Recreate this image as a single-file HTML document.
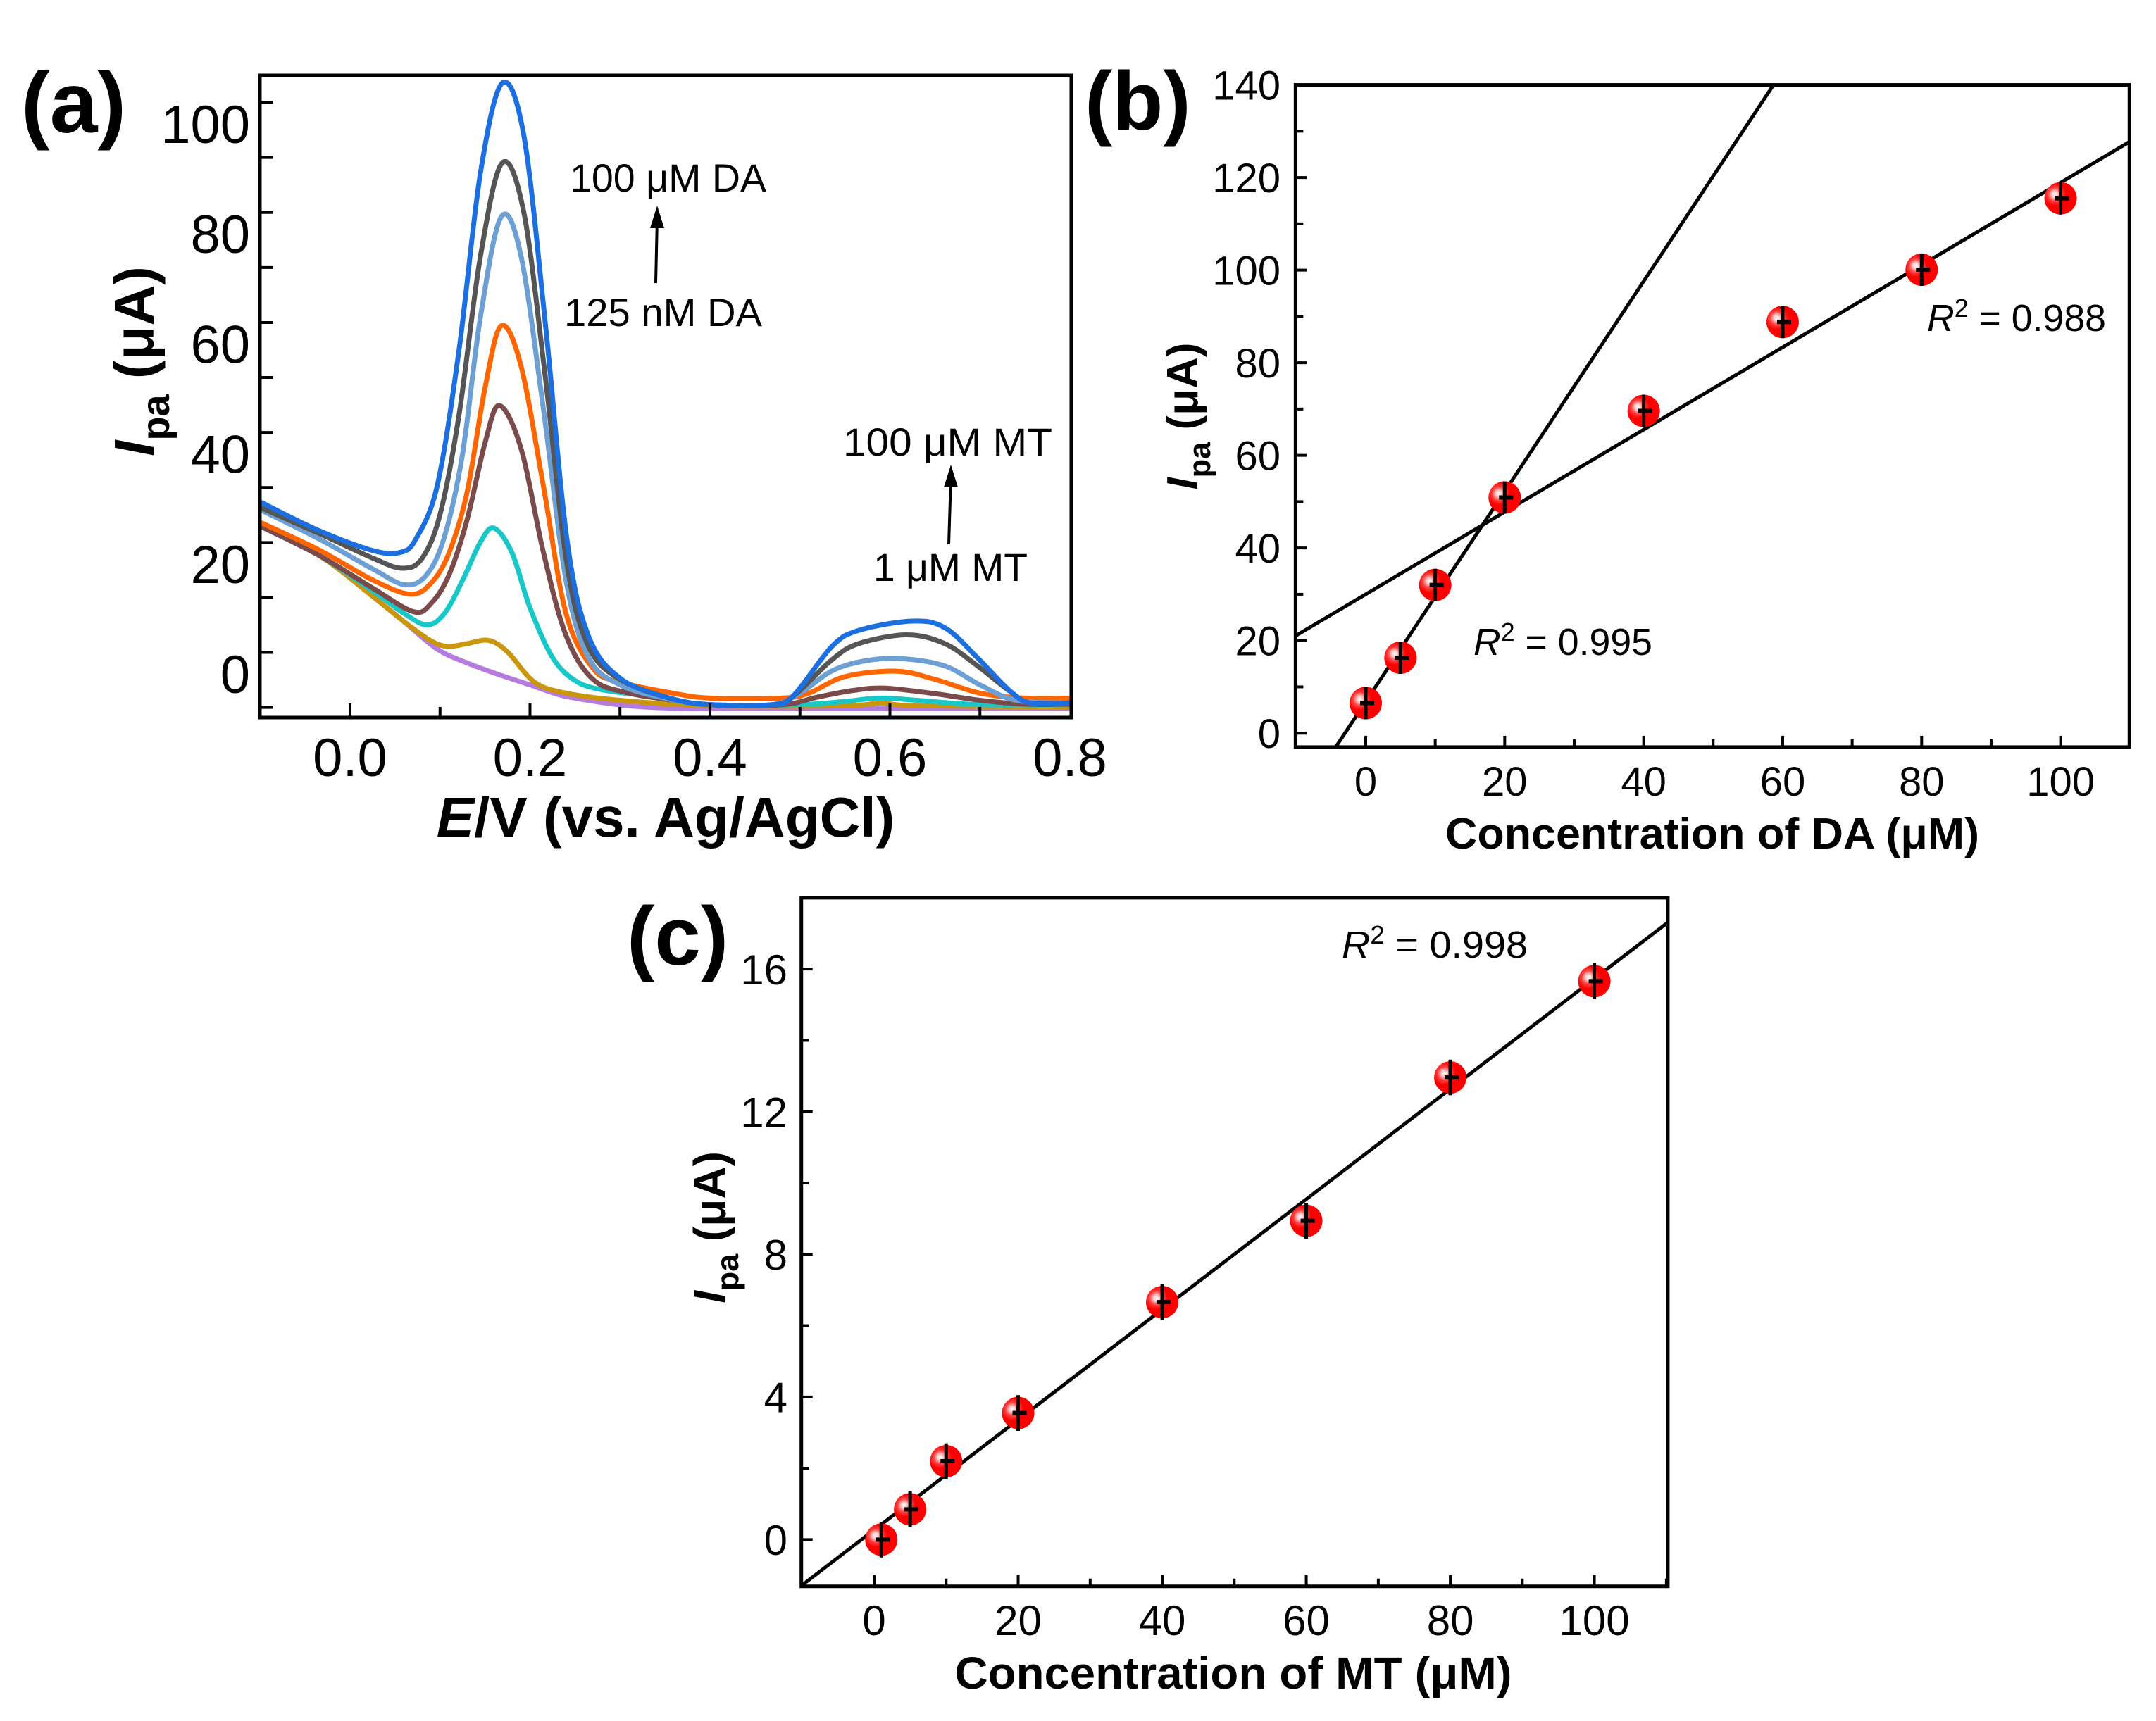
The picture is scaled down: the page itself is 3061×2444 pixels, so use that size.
<!DOCTYPE html>
<html><head><meta charset="utf-8"><style>
html,body{margin:0;padding:0;background:#fff;}
svg{display:block;font-family:"Liberation Sans",Arial,sans-serif;}
</style></head><body>
<svg id="fig" width="3061" height="2444" viewBox="0 0 3061 2444" xmlns="http://www.w3.org/2000/svg">
<defs>
<radialGradient id="ball" cx="0.32" cy="0.38" r="0.7">
<stop offset="0" stop-color="#ffffff"/><stop offset="0.12" stop-color="#ffd0d0"/><stop offset="0.3" stop-color="#ff4040"/><stop offset="0.5" stop-color="#ff0000"/><stop offset="1" stop-color="#ff0000"/>
</radialGradient>
</defs>
<g id="pa"></g>
<g id="pb"></g>
<g id="pc"></g>
</svg>
<script>
// ---------- Panel (a) data ----------
const aSeriesNames = ["purple","gold","cyan","brown","orange","lightblue","darkgray","blue"];
const aColors = ["#b57be0","#c9960c","#18c8c8","#7b4b4b","#ff6600","#6c9fd4","#555555","#1c6fe0"];
const aPurple = [[-0.099,26.8],[-0.034,21.5],[0.026,14],[0.06,9.5],[0.097,4.5],[0.13,2],[0.163,0],[0.20,-2],[0.235,-3.9],[0.28,-5.2],[0.325,-6],[0.40,-6.3],[0.60,-6.3],[0.80,-6.3]];
const aGold = [[-0.099,26.8],[-0.034,21.5],[0.026,14],[0.06,9.5],[0.09,6],[0.109,5],[0.13,5.5],[0.154,6.1],[0.175,4],[0.205,-1.5],[0.24,-3.5],[0.30,-4.8],[0.40,-5.8],[0.55,-5.8],[0.59,-5.3],[0.63,-5.8],[0.80,-6]];
const aCyan = [[-0.099,26.8],[-0.034,21.5],[0.026,15],[0.06,11],[0.0854,8.9],[0.105,11],[0.125,17],[0.145,24],[0.16,26.5],[0.18,22],[0.20,12],[0.225,3],[0.25,-1.2],[0.28,-2.9],[0.33,-4],[0.40,-5.6],[0.50,-5.6],[0.55,-5],[0.589,-4.4],[0.63,-4.8],[0.70,-5.6],[0.80,-5.6]];
const aBrown = [[-0.099,26.8],[-0.034,21.5],[0.026,15.5],[0.0705,11.3],[0.09,12.8],[0.11,18],[0.13,28],[0.15,42],[0.166,48.8],[0.19,41],[0.215,22],[0.24,7],[0.27,-1],[0.31,-3.5],[0.36,-4.8],[0.40,-5.6],[0.48,-5.6],[0.52,-4.2],[0.56,-3],[0.595,-2.6],[0.65,-3.6],[0.70,-4.8],[0.75,-5.5],[0.80,-5.5]];
const aOrange = [[-0.099,27.5],[-0.034,22.5],[0.026,17],[0.067,14.5],[0.09,16.5],[0.11,22],[0.13,33],[0.15,52],[0.168,63.3],[0.19,56],[0.215,34],[0.24,11],[0.27,1],[0.30,-1.5],[0.355,-3.4],[0.40,-4.4],[0.48,-4.4],[0.51,-3.5],[0.55,-0.5],[0.607,0.5],[0.65,-1],[0.70,-3.5],[0.75,-4.4],[0.80,-4.4]];
const aLightBlue = [[-0.099,29.8],[-0.034,24.5],[0.026,19],[0.061,16.2],[0.085,18],[0.105,25],[0.125,40],[0.145,65],[0.168,83.1],[0.19,76],[0.215,48],[0.24,17],[0.265,3],[0.30,-2],[0.355,-4.6],[0.40,-5.6],[0.469,-5.6],[0.50,-3.5],[0.535,0.5],[0.57,2.3],[0.61,2.8],[0.66,1.5],[0.70,-2],[0.74,-4.8],[0.80,-5.3]];
const aDarkGray = [[-0.099,30.2],[-0.034,25.5],[0.026,21],[0.058,19.2],[0.08,21],[0.10,29],[0.121,47],[0.145,76],[0.169,92.9],[0.193,84],[0.217,54],[0.241,20],[0.265,5],[0.30,-1],[0.355,-4.4],[0.40,-5.6],[0.469,-5.6],[0.493,-4],[0.535,2.5],[0.565,5.5],[0.619,7.1],[0.661,5.5],[0.697,1.5],[0.732,-3],[0.756,-5.3],[0.80,-5.3]];
const aBlue = [[-0.099,31.2],[-0.034,26.0],[0.026,22.4],[0.056,22.1],[0.073,24.5],[0.097,34.3],[0.121,58.8],[0.145,91.2],[0.169,107.4],[0.193,98.0],[0.217,63.8],[0.241,24.5],[0.265,6.9],[0.301,-0.9],[0.355,-4.4],[0.40,-5.6],[0.469,-5.6],[0.493,-3.9],[0.535,4.9],[0.565,7.9],[0.625,9.6],[0.661,8.4],[0.697,3.0],[0.732,-2.9],[0.756,-5.3],[0.80,-5.3]];
const aXTicks = [0.0,0.2,0.4,0.6,0.8];
const aXTickLabels = ["0.0","0.2","0.4","0.6","0.8"];
const aYTickLabels = ["0","20","40","60","80","100"];
const aYTickVals = [0,20,40,60,80,100];

// ---------- Panel (b) data ----------
const bConc = [0,5,10,20,40,60,80,100];
const bCurrent = [6.5,16.3,32,50.9,69.6,88.8,100.1,115.5];
const bErr = [3.5,3.5,3.5,3.5,3.5,3.5,3.5,3.5];
const bFit1 = [2.27,6.8];   // slope, intercept (low range)
const bFit2 = [0.889,30.0]; // slope, intercept (high range)
const bXTicks = [0,20,40,60,80,100];
const bYTicks = [0,20,40,60,80,100,120,140];

// ---------- Panel (c) data ----------
const cConc = [1,5,10,20,40,60,80,100];
const cCurrent = [0.0,0.85,2.2,3.55,6.66,8.94,12.96,15.66];
const cErr = [0.5,0.5,0.5,0.5,0.5,0.5,0.5,0.5];
const cFit = [0.1546,0.27];
const cXTicks = [0,20,40,60,80,100];
const cYTicks = [0,4,8,12,16];

const NS="http://www.w3.org/2000/svg";
function mk(parent,tag,attrs,text){const e=document.createElementNS(NS,tag);for(const k in attrs)e.setAttribute(k,attrs[k]);if(text!==undefined)e.textContent=text;parent.appendChild(e);return e;}
function smooth(pts){let d="M"+pts[0][0].toFixed(1)+","+pts[0][1].toFixed(1);for(let i=0;i<pts.length-1;i++){const p0=pts[i-1]||pts[i],p1=pts[i],p2=pts[i+1],p3=pts[i+2]||p2;const c1=[p1[0]+(p2[0]-p0[0])/6,p1[1]+(p2[1]-p0[1])/6],c2=[p2[0]-(p3[0]-p1[0])/6,p2[1]-(p3[1]-p1[1])/6];d+=" C"+c1[0].toFixed(1)+","+c1[1].toFixed(1)+" "+c2[0].toFixed(1)+","+c2[1].toFixed(1)+" "+p2[0].toFixed(1)+","+p2[1].toFixed(1);}return d;}

// ===== Panel A =====
(function(){
const g=document.getElementById('pa');
const L=369,R=1521,T=107,B=1019;
const X=v=>497+(v)*1277.5;
const Y=v=>957-v*7.81;
const clip=mk(g,'clipPath',{id:'clipA'});mk(clip,'rect',{x:L,y:T,width:R-L,height:B-T});
const curves=[aPurple,aGold,aCyan,aBrown,aOrange,aLightBlue,aDarkGray,aBlue];
const cg=mk(g,'g',{'clip-path':'url(#clipA)'});
curves.forEach((c,i)=>{
 const p=mk(cg,'path',{d:smooth(c.map(q=>[X(q[0]),Y(q[1])])),fill:'none',stroke:aColors[i],'stroke-width':7,'stroke-linejoin':'round'});
 
 
});
const fr=mk(g,'rect',{x:L,y:T,width:R-L,height:B-T,fill:'none',stroke:'#000','stroke-width':5});

for(let v=-0.1;v<=0.8001;v+=0.1){const major=Math.abs(Math.round(v*10)%2)===0;const x=X(v);if(x<=L+3||x>=R-3)continue;mk(g,'line',{x1:x,x2:x,y1:B,y2:B-(major?20:15),stroke:'#000','stroke-width':4});}
aXTicks.forEach((v,i)=>{const t=mk(g,'text',{x:X(v),y:1102,'font-size':76,'text-anchor':'middle'},aXTickLabels[i]);});
for(let k=0;k<12;k++){const v=-6.1+10*k;mk(g,'line',{x1:L,x2:L+19,y1:Y(v),y2:Y(v),stroke:'#000','stroke-width':4});}
aYTickVals.forEach((v,i)=>{const t=mk(g,'text',{x:355,y:Y(v)+27,'font-size':76,'text-anchor':'end'},aYTickLabels[i]);});
const xt=mk(g,'text',{x:945,y:1188,'font-size':80,'font-weight':'bold','text-anchor':'middle'});xt.innerHTML='<tspan font-style="italic">E</tspan>/V (vs. Ag/AgCl)';

const yt=mk(g,'text',{transform:'translate(218,513) rotate(-90)','font-size':80,'font-weight':'bold','text-anchor':'middle'});yt.innerHTML='<tspan font-style="italic">I</tspan><tspan font-size="56" dy="22">pa</tspan><tspan dy="-22"> (μA)</tspan>';

const lab=mk(g,'text',{x:30,y:188,'font-size':122,'font-weight':'bold'},'(a)');
const an=[["100 μM DA",809,272,279],["125 nM DA",801,463,281],["100 μM MT",1197,647,297],["1 μM MT",1240,825,219]];
an.forEach(a=>{const t=mk(g,'text',{x:a[1],y:a[2],'font-size':56,textLength:a[3],lengthAdjust:'spacingAndGlyphs'},a[0]);});
[[931,402,933,300],[1347,773,1350,668]].forEach(r=>{mk(g,'line',{x1:r[0],y1:r[1],x2:r[2],y2:r[3]+10,stroke:'#000','stroke-width':4});const h=mk(g,'polygon',{points:`${r[2]},${r[3]-8} ${r[2]-10},${r[3]+24} ${r[2]+10},${r[3]+24}`,fill:'#000'});});
})();

function scatterPanel(id,o){
const g=document.getElementById(id);
const X=v=>o.x0+v*o.sx, Y=v=>o.y0-v*o.sy;
const L=X(o.xmin),R=X(o.xmax),T=Y(o.ymax),B=Y(o.ymin);
const clip=mk(g,'clipPath',{id:'clip'+id});mk(clip,'rect',{x:L,y:T,width:R-L,height:B-T});
const lg=mk(g,'g',{'clip-path':'url(#clip'+id+')'});
o.fits.forEach((f,i)=>{const l=mk(lg,'line',{x1:X(o.xmin),y1:Y(f[0]*o.xmin+f[1]),x2:X(o.xmax),y2:Y(f[0]*o.xmax+f[1]),stroke:'#000','stroke-width':5});});
o.xs.forEach((c,i)=>{const cx=X(c),cy=Y(o.ys[i]);
 const m=mk(g,'ellipse',{cx:cx,cy:cy,rx:23,ry:23,fill:'url(#ball)'});
 mk(g,'line',{x1:cx,x2:cx,y1:Y(o.ys[i]+o.err[i]),y2:Y(o.ys[i]-o.err[i]),stroke:'#000','stroke-width':5});
 mk(g,'line',{x1:cx-8,x2:cx+12,y1:cy,y2:cy,stroke:'#000','stroke-width':6});
});
const fr=mk(g,'rect',{x:L,y:T,width:R-L,height:B-T,fill:'none',stroke:'#000','stroke-width':5});
for(let v=0;v<=o.xmax;v+=o.xminor){const major=v%o.xmajor===0;mk(g,'line',{x1:X(v),x2:X(v),y1:B,y2:B-(major?16:11),stroke:'#000','stroke-width':4});}
o.xticks.forEach(v=>{const t=mk(g,'text',{x:X(v),y:o.xly,'font-size':o.fs,'text-anchor':'middle'},String(v));});
for(let v=0;v<=o.ymax;v+=o.yminor){const major=Math.abs(v%o.ymajor)<1e-9;mk(g,'line',{x1:L,x2:L+(major?16:11),y1:Y(v),y2:Y(v),stroke:'#000','stroke-width':4});}
o.yticks.forEach(v=>{const t=mk(g,'text',{x:o.ylx,y:Y(v)+o.fs*0.36,'font-size':o.fs,'text-anchor':'end'},String(v));});
const xt=mk(g,'text',{x:o.xtx,y:o.xty,'font-size':o.tfs,'font-weight':'bold','text-anchor':'middle',textLength:o.xtw,lengthAdjust:'spacingAndGlyphs'},o.xtitle);
const yt=mk(g,'text',{transform:`translate(${o.ytx},${o.yty}) rotate(-90)`,'font-size':o.tfs,'font-weight':'bold','text-anchor':'middle'});yt.innerHTML='<tspan font-style="italic">I</tspan><tspan font-size="'+(o.tfs*0.7)+'" dy="18">pa</tspan><tspan dy="-18"> (μA)</tspan>';

const lab=mk(g,'text',{x:o.labx,y:o.laby,'font-size':118,'font-weight':'bold'},o.label);
o.r2.forEach(r=>{const t=mk(g,'text',{x:r[0],y:r[1],'font-size':54,textLength:r[3],lengthAdjust:'spacingAndGlyphs'});t.innerHTML='<tspan font-style="italic">R</tspan><tspan font-size="36" dy="-20">2</tspan><tspan dy="20"> = '+r[2]+'</tspan>';});
}
scatterPanel('pb',{x0:1939,sx:9.866,y0:1041.2,sy:6.576,xmin:-10.1,xmax:109.9,ymin:-3,ymax:140,xs:bConc,ys:bCurrent,err:bErr,fits:[bFit1,bFit2],
 xminor:10,xmajor:20,yminor:10,ymajor:20,xticks:bXTicks,yticks:bYTicks,fs:58,xly:1130,ylx:1818,tfs:62,xtitle:'Concentration of DA (μM)',xtx:2431,xty:1205,xtw:758,ytx:1700,yty:591,label:'(b)',labx:1540,laby:184,
 r2:[[2092,930,'0.995',254],[2736,470,'0.988',254]]});
scatterPanel('pc',{x0:1241,sx:10.226,y0:2186.4,sy:50.64,xmin:-10.1,xmax:110.2,ymin:-1.31,ymax:18.0,xs:cConc,ys:cCurrent,err:cErr,fits:[cFit],
 xminor:10,xmajor:20,yminor:2,ymajor:4,xticks:cXTicks,yticks:cYTicks,fs:60,xly:2322,ylx:1118,tfs:64,xtitle:'Concentration of MT (μM)',xtx:1751,xty:2398,xtw:791,ytx:1030,yty:1743,label:'(c)',labx:890,laby:1370,
 r2:[[1905,1360,'0.998',264]]});
</script>
</body></html>
